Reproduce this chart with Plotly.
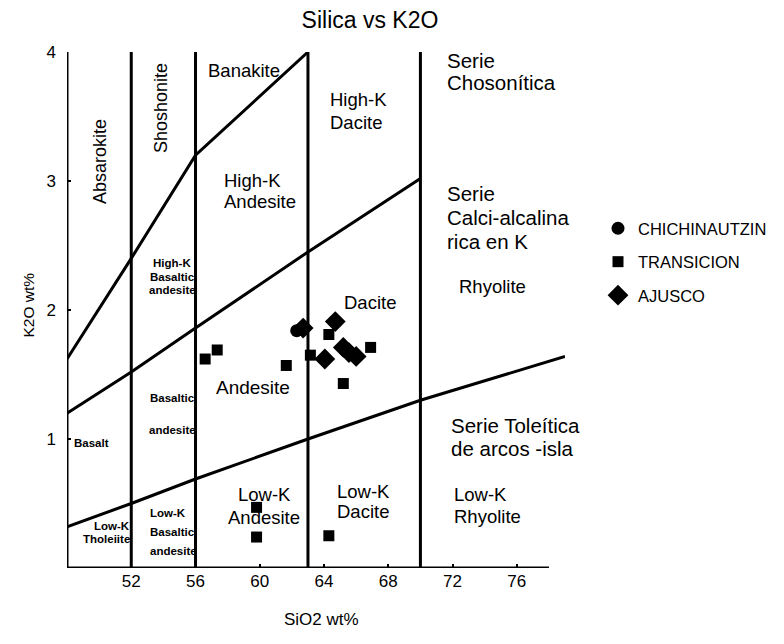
import plotly.graph_objects as go

# ---- data ----
chich_sio2 = [62.3]
chich_k2o = [1.84]

trans_sio2 = [56.6, 57.35, 61.65, 63.15, 64.3, 66.9, 65.2, 59.8, 59.8, 64.3]
trans_k2o = [1.62, 1.69, 1.57, 1.65, 1.81, 1.71, 1.43, 0.47, 0.24, 0.25]

ajus_sio2 = [64.7, 64.05, 65.2, 65.55, 66.0, 62.7]
ajus_k2o = [1.91, 1.62, 1.71, 1.67, 1.64, 1.86]

# boundary lines (Peccerillo & Taylor)
shosh_x = [48, 52, 56, 63]
shosh_y = [1.62, 2.4, 3.2, 4.0]
highk_x = [48, 52, 56, 63, 70]
highk_y = [1.2, 1.52, 1.86, 2.45, 3.02]
lowk_x = [48, 52, 56, 63, 70, 79]
lowk_y = [0.32, 0.5, 0.69, 1.0, 1.3, 1.64]
vert_x = [52, 56, 63, 70]

x_ticks = [52, 56, 60, 64, 68, 72, 76]
y_ticks = [1, 2, 3, 4]

FONT = "Liberation Sans, Arial, sans-serif"

# page offset (browser body margin)
OX, OY = 8, 8
W, H = 784 - OX, 644 - OY
L, T = 67 - OX, 52 - OY
PW, PH = 498, 516
R = W - L - PW
B = H - T - PH
XR = [48, 79]
YR = [0, 4]

def px(xp):
    return (xp - OX - L) / PW
def py(yp):
    return (H - B - (yp - OY)) / PH
def dx(xp):
    return XR[0] + px(xp) * (XR[1] - XR[0])
def dy(yp):
    return YR[0] + py(yp) * (YR[1] - YR[0])

fig = go.Figure()

line_style = dict(color="black", width=3)
for xs, ys in [(shosh_x, shosh_y), (highk_x, highk_y), (lowk_x, lowk_y)]:
    fig.add_trace(go.Scatter(x=xs, y=ys, mode="lines", line=line_style,
                             showlegend=False, hoverinfo="skip", cliponaxis=False))
for vx in vert_x:
    fig.add_trace(go.Scatter(x=[vx, vx], y=[0, 4], mode="lines", line=line_style,
                             showlegend=False, hoverinfo="skip", cliponaxis=False))
# axis frame lines
fig.add_trace(go.Scatter(x=[48, 48], y=[0, 4], mode="lines", line=line_style,
                         showlegend=False, hoverinfo="skip", cliponaxis=False))
fig.add_trace(go.Scatter(x=[48, 78], y=[0, 0], mode="lines", line=line_style,
                         showlegend=False, hoverinfo="skip", cliponaxis=False))

fig.add_trace(go.Scatter(x=chich_sio2, y=chich_k2o, mode="markers", name="CHICHINAUTZIN",
                         legendgroup="a",
                         marker=dict(symbol="circle", size=13, color="black")))
fig.add_trace(go.Scatter(x=trans_sio2, y=trans_k2o, mode="markers", name="TRANSICION",
                         legendgroup="b",
                         marker=dict(symbol="square", size=11, color="black")))
fig.add_trace(go.Scatter(x=ajus_sio2, y=ajus_k2o, mode="markers", name="AJUSCO",
                         legendgroup="c",
                         marker=dict(symbol="diamond", size=16, color="black")))

ann = []
def lab(xp, yp, t, size=18.5, xanchor="center", angle=0, bold=False):
    if bold:
        t = "<b>" + t + "</b>"
    ann.append(dict(x=dx(xp), y=dy(yp), xref="x", yref="y", text=t, showarrow=False,
                    font=dict(family=FONT, size=size, color="black"),
                    xanchor=xanchor, yanchor="middle", textangle=angle))

BIG = 18.5
SER = 20.5
SM = 11.5
lab(100, 162, "Absarokite", size=18, angle=-90)
lab(161, 108, "Shoshonite", size=18, angle=-90)
lab(244, 70, "Banakite", size=BIG)
lab(328, 99, "High-K", size=BIG, xanchor="left")
lab(328, 122, "Dacite", size=BIG, xanchor="left")
lab(445, 60, "Serie", size=SER, xanchor="left")
lab(445, 82, "Chosonítica", size=SER, xanchor="left")
lab(222, 180, "High-K", size=BIG, xanchor="left")
lab(222, 201, "Andesite", size=BIG, xanchor="left")
lab(445, 193, "Serie", size=SER, xanchor="left")
lab(445, 217, "Calci-alcalina", size=SER, xanchor="left")
lab(445, 241, "rica en K", size=SER, xanchor="left")
lab(172, 263, "High-K", size=SM, bold=True)
lab(172, 277, "Basaltic", size=SM, bold=True)
lab(172, 290, "andesite", size=SM, bold=True)
lab(370, 302, "Dacite", size=BIG)
lab(492, 286, "Rhyolite", size=BIG)
lab(253, 387, "Andesite", size=19)
lab(172, 398, "Basaltic", size=SM, bold=True)
lab(172, 430, "andesite", size=SM, bold=True)
lab(72, 443, "Basalt", size=SM, bold=True, xanchor="left")
lab(449, 425, "Serie Toleítica", size=SER, xanchor="left")
lab(449, 448, "de arcos -isla", size=SER, xanchor="left")
lab(264, 494, "Low-K", size=BIG)
lab(264, 517, "Andesite", size=BIG)
lab(335, 491, "Low-K", size=BIG, xanchor="left")
lab(335, 511, "Dacite", size=BIG, xanchor="left")
lab(452, 494, "Low-K", size=BIG, xanchor="left")
lab(452, 516, "Rhyolite", size=BIG, xanchor="left")
lab(132, 526, "Low-K", size=SM, bold=True, xanchor="right")
lab(132, 539, "Tholeiite", size=SM, bold=True, xanchor="right")
lab(148, 513, "Low-K", size=SM, bold=True, xanchor="left")
lab(148, 532, "Basaltic", size=SM, bold=True, xanchor="left")
lab(148, 551, "andesite", size=SM, bold=True, xanchor="left")

# axis titles as paper annotations (page pixel positions)
ann.append(dict(x=px(17), y=py(305), xref="paper", yref="paper", text="K2O wt%",
                showarrow=False, font=dict(family=FONT, size=15.5, color="black"),
                textangle=-90))
ann.append(dict(x=px(321), y=py(631), xref="paper", yref="paper", text="SiO2 wt%",
                showarrow=False, font=dict(family=FONT, size=17, color="black")))

fig.update_layout(
    width=W, height=H,
    margin=dict(l=L, r=R, t=T, b=B, autoexpand=False),
    paper_bgcolor="white", plot_bgcolor="white",
    font=dict(family=FONT, size=16, color="black"),
    title=dict(text="Silica vs K2O", x=(370 - OX) / W, xanchor="center",
               y=1 - (20 - OY) / H, yanchor="middle",
               font=dict(family=FONT, size=23, color="black")),
    xaxis=dict(range=XR, tickvals=x_ticks, ticks="inside", ticklen=4,
               tickwidth=2, tickcolor="black", showgrid=False, zeroline=False,
               showline=False, tickfont=dict(size=17), automargin=False,
               ticklabelstandoff=1),
    yaxis=dict(range=YR, tickvals=y_ticks, ticks="inside", ticklen=4,
               tickwidth=2, tickcolor="black", showgrid=False, zeroline=False,
               showline=False, tickfont=dict(size=17), automargin=False,
               ticklabelstandoff=10),
    legend=dict(x=px(598), xanchor="left", y=py(211), yanchor="top",
                font=dict(family=FONT, size=16.5, color="black"),
                tracegroupgap=9, bgcolor="rgba(0,0,0,0)"),
    annotations=ann,
    showlegend=True,
)

fig.write_html("out.html")
